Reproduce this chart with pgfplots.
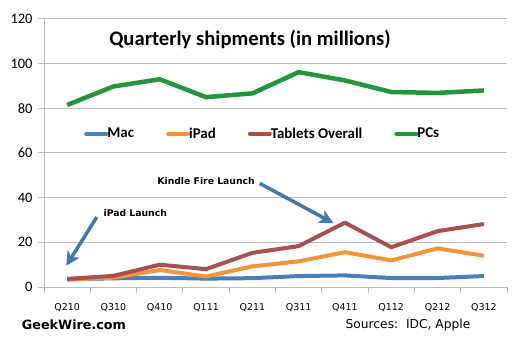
\documentclass[border=0pt]{standalone}
\usepackage{pgfplots}
\pgfplotsset{compat=1.18}
\usepackage{fontspec}
\setmainfont{Carlito}
\newfontfamily\dejavu{DejaVu Sans}
\usetikzlibrary{arrows.meta}
\definecolor{macblue}{HTML}{4A7EBB}
\definecolor{ipadorange}{HTML}{F7923A}
\definecolor{tabred}{HTML}{A8504E}
\definecolor{pcgreen}{HTML}{23953A}
\definecolor{arrowblue}{HTML}{4277A8}
\definecolor{gridgray}{HTML}{BEBEBE}
\begin{document}
\begin{tikzpicture}
\useasboundingbox (0,0) rectangle (530bp,355bp);
\begin{axis}[
  at={(44bp,68bp)}, anchor=south west,
  scale only axis, width=463bp, height=268bp,
  xmin=-0.5, xmax=9.5, ymin=0, ymax=120,
  axis x line=bottom, axis y line=left,
  axis line style={gridgray, line width=1pt, -},
  xtick={0,...,9},
  xticklabels={Q210,Q310,Q410,Q111,Q211,Q311,Q411,Q112,Q212,Q312},
  minor xtick={-0.5,0.5,...,9.5},
  major x tick style={draw=none},
  minor x tick style={gridgray, line width=1pt},
  minor tick length=6bp,
  ytick={0,20,...,120},
  major y tick style={gridgray, line width=1pt},
  major tick length=6bp,
  tick align=outside,
  ymajorgrids, major grid style={gridgray, line width=1pt},
  /pgf/number format/assume math mode=true,
  yticklabel style={font=\fontsize{14.5}{15}\selectfont, xshift=-2bp},
  xticklabel style={font=\dejavu\fontsize{9.5}{11}\selectfont, yshift=-7bp},
  legend columns=4,
  legend style={draw=none, fill=none, at={(0.4725,0.572)}, anchor=center,
    font=\bfseries\fontsize{15}{16}\selectfont,
    /tikz/every even column/.append style={column sep=30bp},
    inner sep=0pt},
  legend image code/.code={\draw[#1, line width=4bp, line cap=round] (0bp,0bp) -- (20bp,0bp);},
  line join=round,
]
\addplot[macblue, line width=4bp] coordinates {(0,3.47)(1,3.89)(2,4.13)(3,3.76)(4,3.95)(5,4.89)(6,5.2)(7,4.0)(8,4.02)(9,4.9)};
\addlegendentry{\hspace{-3pt}Mac}
\addplot[ipadorange, line width=4bp] coordinates {(0,3.27)(1,4.19)(2,7.6)(3,4.69)(4,9.25)(5,11.5)(6,15.6)(7,11.9)(8,17.3)(9,14.0)};
\addlegendentry{\hspace{-3pt}iPad}
\addplot[tabred, line width=4bp] coordinates {(0,3.6)(1,5.0)(2,10.0)(3,8.0)(4,15.3)(5,18.3)(6,28.8)(7,17.8)(8,25.0)(9,28.2)};
\addlegendentry{\hspace{-3pt}Tablets Overall}
\addplot[pcgreen, line width=4.5bp] coordinates {(0,81.5)(1,89.8)(2,93.0)(3,85.0)(4,86.7)(5,96.2)(6,92.5)(7,87.3)(8,86.9)(9,88.0)};
\addlegendentry{\hspace{-3pt}PCs}
\node[font=\bfseries\fontsize{20.7}{22}\selectfont] at (axis cs:3.95,110.8) {Quarterly shipments (in millions)};
\node[font=\dejavu\bfseries\fontsize{9.3}{11}\selectfont] at (axis cs:3.0,47.5) {Kindle Fire Launch};
\node[font=\dejavu\bfseries\fontsize{9.3}{11}\selectfont] at (axis cs:1.47,33.1) {iPad Launch};
\draw[arrowblue, line width=3.5bp, -{Stealth[length=14bp,width=14bp,inset=4bp]}] (axis cs:4.16,46.4) -- (axis cs:5.75,28.6);
\draw[arrowblue, line width=3.5bp, -{Stealth[length=14bp,width=14bp,inset=4bp]}] (axis cs:0.64,31.3) -- (axis cs:-0.02,9.5);
\end{axis}
\node[font=\dejavu\bfseries\fontsize{12.8}{14}\selectfont] at (74bp,30bp) {GeekWire.com};
\node[font=\dejavu\fontsize{12.3}{14}\selectfont] at (408bp,30bp) {Sources:\ \ IDC, Apple};
\end{tikzpicture}
\end{document}
